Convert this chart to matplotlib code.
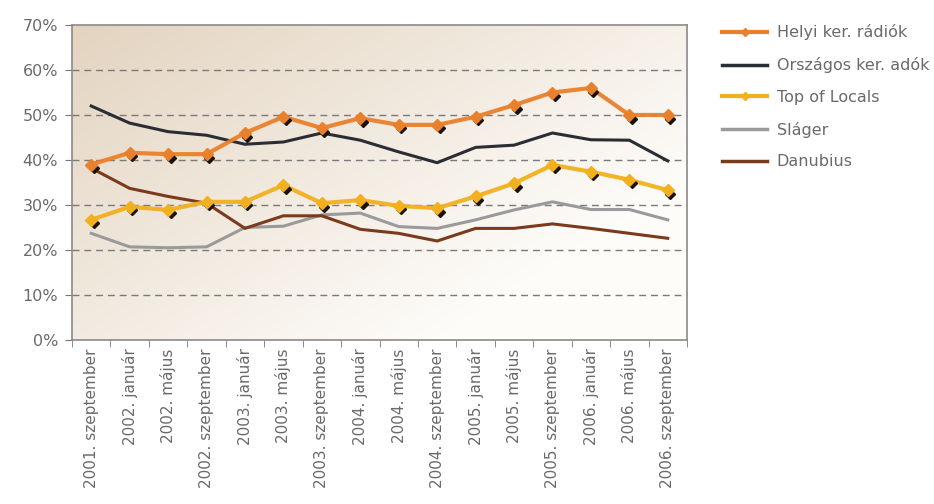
import numpy as np
import matplotlib
matplotlib.use("Agg")
import matplotlib.pyplot as plt
from matplotlib.lines import Line2D
from matplotlib.transforms import offset_copy

categories = ["2001. szeptember", "2002. január", "2002. május", "2002. szeptember",
              "2003. január", "2003. május", "2003. szeptember", "2004. január",
              "2004. május", "2004. szeptember", "2005. január", "2005. május",
              "2005. szeptember", "2006. január", "2006. május", "2006. szeptember"]

helyi = [39.0, 41.6, 41.3, 41.3, 46.0, 49.6, 47.1, 49.3, 47.8, 47.8, 49.6, 52.2, 55.0, 56.0, 50.0, 50.0]
orszagos = [52.0, 48.2, 46.3, 45.5, 43.5, 44.0, 46.0, 44.4, 41.8, 39.4, 42.8, 43.3, 46.0, 44.5, 44.4, 39.8]
top_locals = [26.7, 29.6, 28.9, 30.7, 30.7, 34.4, 30.4, 31.1, 29.8, 29.3, 31.9, 34.8, 38.9, 37.4, 35.6, 33.3]
slager = [23.7, 20.7, 20.5, 20.7, 25.0, 25.3, 27.8, 28.2, 25.2, 24.8, 26.7, 28.9, 30.7, 29.0, 29.0, 26.7]
danubius = [38.2, 33.7, 31.9, 30.4, 24.8, 27.6, 27.6, 24.6, 23.7, 22.0, 24.8, 24.8, 25.8, 24.8, 23.7, 22.6]

names = ["Helyi ker. rádiók", "Országos ker. adók", "Top of Locals", "Sláger", "Danubius"]
yticks = [0, 10, 20, 30, 40, 50, 60, 70]

c_helyi = "#E9802B"
c_orsz = "#2A2D33"
c_top = "#F2B01E"
c_slag = "#9A9A9C"
c_danu = "#7B3A1C"
txt = "#6A6A6A"
fs = 11.5

fig = plt.figure(figsize=(9.34, 5.04), dpi=100)
ax = fig.add_axes([72/934, 1-340/504, 615/934, 315/504])

x = np.arange(len(categories))
ax.set_xlim(-0.5, len(categories) - 0.5)
ax.set_ylim(0, 70)

# gradient background: tan at top-left fading to near white at bottom-right
gx = np.linspace(0, 1, 200)
gy = np.linspace(0, 1, 200)
GX, GY = np.meshgrid(gx, gy)  # GY=0 is the top row (origin="upper")
t = np.clip((GX * 1.0 + GY * 0.8) / 1.4, 0, 1)
c0 = np.array([0.89, 0.83, 0.75])
c1 = np.array([0.995, 0.99, 0.98])
img = c0[None, None, :] * (1 - t[..., None]) + c1[None, None, :] * t[..., None]
ax.imshow(img, extent=[0, 1, 0, 1], transform=ax.transAxes, aspect="auto",
          zorder=0, origin="upper")

for yv in yticks[1:-1]:
    ax.axhline(yv, color="#7A7A7A", lw=1.0, ls=(0, (5, 3.5)), zorder=1)

shadow = offset_copy(ax.transData, fig=fig, x=2.5, y=-3.5, units="dots")

ax.plot(x, orszagos, color=c_orsz, lw=2.2, zorder=3)
ax.plot(x, slager, color=c_slag, lw=2.2, zorder=3)
ax.plot(x, danubius, color=c_danu, lw=2.2, zorder=3)
for data, col in [(top_locals, c_top), (helyi, c_helyi)]:
    ax.plot(x, data, color=col, lw=3.0, zorder=4, alpha=0.95)
    ax.plot(x, data, ls="none", marker="D", ms=5, color="#1A1208",
            transform=shadow, zorder=5)
    ax.plot(x, data, ls="none", marker="D", ms=6, color=col, zorder=6)

ax.set_yticks(yticks)
ax.set_yticklabels([f"{v}%" for v in yticks])
ax.set_xticks(x)
ax.set_xticklabels(categories, rotation=90)
ax.set_xticks(np.arange(-0.5, len(categories)), minor=True)
ax.tick_params(axis="x", which="major", length=0, pad=6, labelsize=11)
ax.tick_params(axis="x", which="minor", length=5, color="#777777", direction="out")
ax.tick_params(axis="y", length=5, color="#777777", direction="out", pad=5, labelsize=fs)
ax.tick_params(labelcolor=txt)
for s in ax.spines.values():
    s.set_color("#8A8A8A")
    s.set_linewidth(1.2)

handles = [
    Line2D([], [], color=c_helyi, lw=3, marker="D", ms=4, markevery=[1]),
    Line2D([], [], color=c_orsz, lw=2.5),
    Line2D([], [], color=c_top, lw=3, marker="D", ms=4, markevery=[1]),
    Line2D([], [], color=c_slag, lw=2.5),
    Line2D([], [], color=c_danu, lw=2.5),
]
leg = fig.legend(handles, names, loc="upper left", bbox_to_anchor=(708/934, 1-10/504),
                 frameon=False, fontsize=fs, labelcolor=txt, handlelength=2.8,
                 handletextpad=0.6, labelspacing=1.05)

fig.savefig("out.png", dpi=100)
